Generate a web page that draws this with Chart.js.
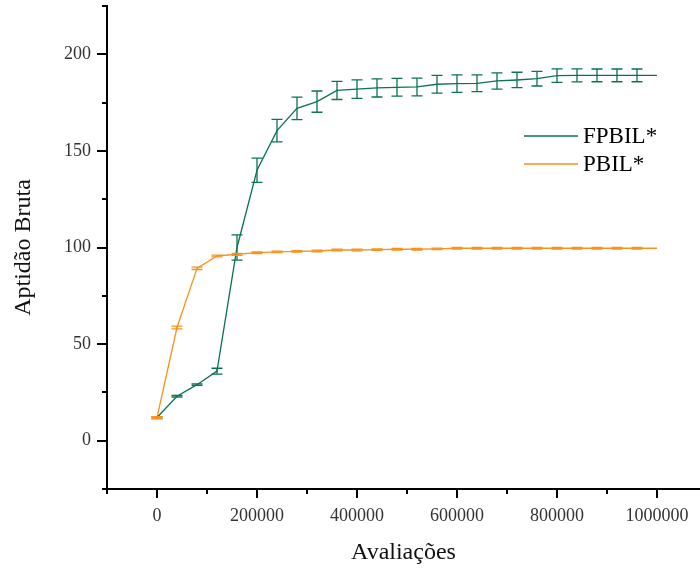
<!DOCTYPE html>
<html>
<head>
<meta charset="utf-8">
<script src="https://cdn.jsdelivr.net/npm/chart.js@4.4.1/dist/chart.umd.min.js"></script>
<style>
  html, body { margin: 0; padding: 0; background: #fff; }
  #wrap { width: 700px; height: 569px; }
</style>
</head>
<body>
<div id="wrap"><canvas id="chart" width="700" height="569"></canvas></div>
<script>
// Avaliações (x) sampled every 40000 evaluations
const evaluations = [0, 40000, 80000, 120000, 160000, 200000, 240000, 280000, 320000, 360000,
  400000, 440000, 480000, 520000, 560000, 600000, 640000, 680000, 720000, 760000,
  800000, 840000, 880000, 920000, 960000, 1000000];

const fpbilMean = [12, 23, 29, 36, 100, 140, 160.5, 172, 175.5, 181.3,
  182, 182.6, 182.9, 183.1, 184.5, 184.8, 185, 186.2, 186.7, 187.4,
  189, 189.1, 189.1, 189.1, 189.1, 189.1];
const fpbilErr = [0.5, 0.4, 0.4, 1.5, 6.5, 6.3, 5.8, 5.8, 5.5, 4.7,
  4.8, 4.7, 4.6, 4.6, 4.6, 4.5, 4.3, 4.2, 4.0, 3.8,
  3.5, 3.4, 3.3, 3.3, 3.3, 0];

const pbilMean = [12, 58.6, 89.2, 95.6, 96.5, 97.3, 97.7, 98, 98.2, 98.7,
  98.7, 98.9, 99.1, 99.1, 99.3, 99.6, 99.6, 99.6, 99.6, 99.6,
  99.6, 99.6, 99.6, 99.6, 99.6, 99.6];
const pbilErr = [0.5, 0.7, 0.6, 0.5, 0.5, 0.4, 0.4, 0.4, 0.4, 0.4,
  0.4, 0.4, 0.4, 0.4, 0.4, 0.4, 0.4, 0.4, 0.4, 0.4,
  0.4, 0.4, 0.4, 0.4, 0.4, 0];

const seriesNames = ["FPBIL*", "PBIL*"];

// tick positions (major ones get labels)
const xTicks = [-100000, 0, 100000, 200000, 300000, 400000, 500000, 600000,
  700000, 800000, 900000, 1000000];
const xLabels = ["0", "200000", "400000", "600000", "800000", "1000000"];
const yTicks = [-25, 0, 25, 50, 75, 100, 125, 150, 175, 200, 225];
const yLabels = ["0", "50", "100", "150", "200"];

const GREEN = "#0b7350";
const ORANGE = "#f7931e";
const FONT = "'Liberation Serif', 'Times New Roman', serif";

function toPoints(xs, ys) {
  return xs.map((x, i) => ({ x: x, y: ys[i] }));
}

// Error bars with caps, drawn through the scales
const errorBars = {
  id: "errorBars",
  afterDatasetsDraw(chart) {
    const ctx = chart.ctx;
    const xs = chart.scales.x, ys = chart.scales.y;
    chart.data.datasets.forEach(ds => {
      if (!ds.errors) return;
      ctx.save();
      ctx.strokeStyle = ds.borderColor;
      ctx.lineWidth = 1.3;
      ds.data.forEach((p, i) => {
        const e = ds.errors[i];
        if (!e) return;
        const px = xs.getPixelForValue(p.x);
        const top = ys.getPixelForValue(p.y + e);
        const bot = ys.getPixelForValue(p.y - e);
        ctx.beginPath();
        ctx.moveTo(px, top); ctx.lineTo(px, bot);
        ctx.moveTo(px - 5.5, top); ctx.lineTo(px + 5.5, top);
        ctx.moveTo(px - 5.5, bot); ctx.lineTo(px + 5.5, bot);
        ctx.stroke();
      });
      ctx.restore();
    });
  }
};

// Major / minor tick marks pointing outward
const tickMarks = {
  id: "tickMarks",
  afterDraw(chart) {
    const ctx = chart.ctx;
    const xs = chart.scales.x, ys = chart.scales.y;
    const area = chart.chartArea;
    ctx.save();
    ctx.strokeStyle = "#000";
    ctx.lineWidth = 2;
    ctx.beginPath();
    xs.ticks.forEach(t => {
      const px = Math.round(xs.getPixelForValue(t.value));
      const len = xLabels.includes(String(t.value)) ? 9 : 5;
      ctx.moveTo(px, area.bottom); ctx.lineTo(px, area.bottom + len);
    });
    ys.ticks.forEach(t => {
      const py = Math.round(ys.getPixelForValue(t.value));
      const len = yLabels.includes(String(t.value)) ? 10 : 5;
      ctx.moveTo(area.left, py); ctx.lineTo(area.left - len, py);
    });
    ctx.stroke();
    ctx.restore();
  }
};

// Legend inside the plot, right side
const innerLegend = {
  id: "innerLegend",
  afterDraw(chart) {
    const ctx = chart.ctx;
    ctx.save();
    ctx.font = "23px " + FONT;
    ctx.textBaseline = "middle";
    chart.data.datasets.forEach((ds, i) => {
      const y = 136 + i * 28;
      ctx.strokeStyle = ds.borderColor;
      ctx.lineWidth = 1.3;
      ctx.beginPath();
      ctx.moveTo(524, y); ctx.lineTo(578, y);
      ctx.stroke();
      ctx.fillStyle = "#000";
      ctx.fillText(ds.label, 583, y + 1);
    });
    ctx.restore();
  }
};

new Chart(document.getElementById("chart"), {
  type: "line",
  data: {
    datasets: [
      {
        label: seriesNames[0],
        data: toPoints(evaluations, fpbilMean),
        errors: fpbilErr,
        borderColor: GREEN,
        borderWidth: 1.3,
        pointRadius: 0,
        tension: 0
      },
      {
        label: seriesNames[1],
        data: toPoints(evaluations, pbilMean),
        errors: pbilErr,
        borderColor: ORANGE,
        borderWidth: 1.3,
        pointRadius: 0,
        tension: 0
      }
    ]
  },
  options: {
    responsive: false,
    animation: false,
    layout: { padding: { top: 6, right: 0, left: 0, bottom: 0 } },
    plugins: {
      legend: { display: false },
      tooltip: { enabled: false }
    },
    scales: {
      x: {
        type: "linear",
        min: -100000,
        max: 1086000,
        border: { display: true, color: "#000", width: 2 },
        grid: { display: false, drawTicks: false },
        afterBuildTicks(scale) {
          scale.ticks = xTicks.map(v => ({ value: v }));
        },
        ticks: {
          autoSkip: false,
          maxRotation: 0,
          padding: 16,
          color: "#333",
          font: { family: FONT, size: 18 },
          callback: v => xLabels.includes(String(v)) ? String(v) : ""
        },
        title: {
          display: true,
          text: "Avaliações",
          color: "#111",
          font: { family: FONT, size: 24 },
          padding: { top: 0, bottom: 2 }
        },
        afterFit(scale) {
          scale.height = 80;
          scale.paddingLeft = 0;
          scale.paddingRight = 0;
        }
      },
      y: {
        type: "linear",
        min: -25,
        max: 225,
        border: { display: true, color: "#000", width: 2 },
        grid: { display: false, drawTicks: false },
        afterBuildTicks(scale) {
          scale.ticks = yTicks.map(v => ({ value: v }));
        },
        ticks: {
          autoSkip: false,
          padding: 16,
          color: "#333",
          font: { family: FONT, size: 18 },
          callback: v => yLabels.includes(String(v)) ? String(v) : ""
        },
        title: {
          display: true,
          text: "Aptidão Bruta",
          color: "#111",
          font: { family: FONT, size: 24 },
          padding: { top: 9, bottom: 0 }
        },
        afterFit(scale) {
          scale.width = 107;
          scale.paddingTop = 0;
          scale.paddingBottom = 0;
        }
      }
    }
  },
  plugins: [errorBars, tickMarks, innerLegend]
});
</script>
</body>
</html>
